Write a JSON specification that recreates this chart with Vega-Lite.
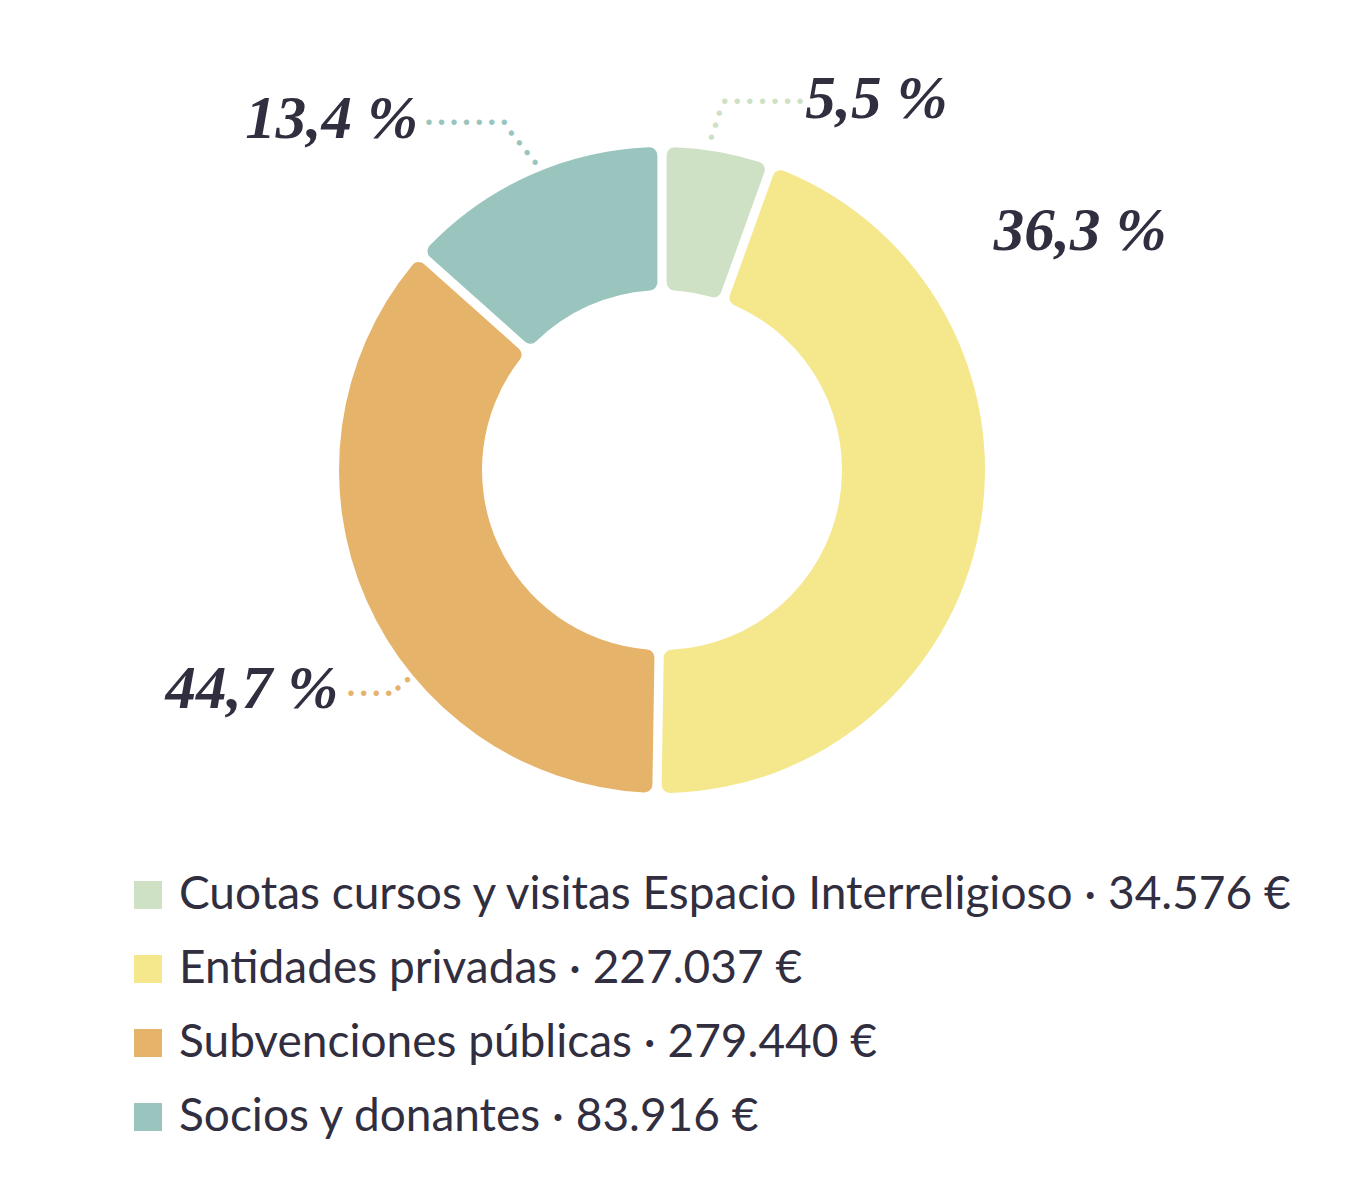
{
  "$schema": "https://vega.github.io/schema/vega-lite/v6.json",
  "width": 1324,
  "height": 940,
  "padding": {"left": 0, "top": 0, "right": 27, "bottom": 239},
  "autosize": {"type": "none"},
  "background": "white",
  "config": {"view": {"stroke": null}},
  "data": {
    "values": [
      {"cat": "cuotas", "leyenda": "Cuotas cursos y visitas Espacio Interreligioso · 34.576 €", "importe": 34576, "sector": 5.5, "pct": "5,5 %", "orden": 1},
      {"cat": "entidades", "leyenda": "Entidades privadas · 227.037 €", "importe": 227037, "sector": 44.7, "pct": "36,3 %", "orden": 2},
      {"cat": "subvenciones", "leyenda": "Subvenciones públicas · 279.440 €", "importe": 279440, "sector": 36.3, "pct": "44,7 %", "orden": 3},
      {"cat": "socios", "leyenda": "Socios y donantes · 83.916 €", "importe": 83916, "sector": 13.4, "pct": "13,4 %", "orden": 4}
    ]
  },
  "encoding": {
    "theta": {"field": "sector", "type": "quantitative", "stack": true},
    "order": {"field": "orden", "type": "quantitative"}
  },
  "layer": [
    {
      "mark": {"type": "arc", "innerRadius": 180, "outerRadius": 323, "padAngle": 0.025, "cornerRadius": 8},
      "encoding": {
        "color": {
          "field": "leyenda",
          "type": "nominal",
          "sort": null,
          "scale": {
            "domain": [
              "Cuotas cursos y visitas Espacio Interreligioso · 34.576 €",
              "Entidades privadas · 227.037 €",
              "Subvenciones públicas · 279.440 €",
              "Socios y donantes · 83.916 €"
            ],
            "range": ["#cfe1c4", "#f5e78c", "#e6b36b", "#9ac5bf"]
          },
          "legend": {
            "title": null,
            "orient": "none",
            "legendX": 125,
            "legendY": 872,
            "symbolType": "square",
            "symbolSize": 784,
            "symbolStrokeWidth": 0,
            "symbolOpacity": 1,
            "labelFont": "Lato",
            "labelFontSize": 46,
            "labelColor": "#312e3f",
            "labelOffset": 8,
            "rowPadding": 28,
            "labelLimit": 3000,
            "padding": 0
          }
        }
      }
    },
    {
      "mark": {"type": "text", "radius": 380, "dx": 149, "dy": 4, "font": "Liberation Serif", "fontWeight": "bold", "fontStyle": "italic", "fontSize": 61, "fill": "#312e3f", "align": "center", "baseline": "middle"},
      "encoding": {"text": {"condition": {"test": "datum.cat === 'cuotas'", "field": "pct", "type": "nominal"}, "value": ""}}
    },
    {
      "mark": {"type": "text", "radius": 420, "dx": 5, "dy": -314, "font": "Liberation Serif", "fontWeight": "bold", "fontStyle": "italic", "fontSize": 61, "fill": "#312e3f", "align": "center", "baseline": "middle"},
      "encoding": {"text": {"condition": {"test": "datum.cat === 'entidades'", "field": "pct", "type": "nominal"}, "value": ""}}
    },
    {
      "mark": {"type": "text", "radius": 450, "dx": 2, "dy": 39, "font": "Liberation Serif", "fontWeight": "bold", "fontStyle": "italic", "fontSize": 61, "fill": "#312e3f", "align": "center", "baseline": "middle"},
      "encoding": {"text": {"condition": {"test": "datum.cat === 'subvenciones'", "field": "pct", "type": "nominal"}, "value": ""}}
    },
    {
      "mark": {"type": "text", "radius": 380, "dx": -175, "dy": -3, "font": "Liberation Serif", "fontWeight": "bold", "fontStyle": "italic", "fontSize": 61, "fill": "#312e3f", "align": "center", "baseline": "middle"},
      "encoding": {"text": {"condition": {"test": "datum.cat === 'socios'", "field": "pct", "type": "nominal"}, "value": ""}}
    },
    {
      "mark": {"type": "text", "radius": 380, "dx": 35, "dy": 6, "font": "Liberation Sans", "fontSize": 20, "fill": "#cfe1c4", "align": "center", "baseline": "middle"},
      "encoding": {"text": {"condition": {"test": "datum.cat === 'cuotas'", "value": "• • • • • • •"}, "value": ""}}
    },
    {
      "mark": {"type": "text", "radius": 380, "angle": -72.3, "dx": -31.8, "dy": -1.8, "font": "Liberation Sans", "fontSize": 20, "fill": "#cfe1c4", "align": "center", "baseline": "middle"},
      "encoding": {"text": {"condition": {"test": "datum.cat === 'cuotas'", "value": "• • •"}, "value": ""}}
    },
    {
      "mark": {"type": "text", "radius": 380, "dx": -40, "dy": 0, "font": "Liberation Sans", "fontSize": 20, "fill": "#9ac5bf", "align": "center", "baseline": "middle"},
      "encoding": {"text": {"condition": {"test": "datum.cat === 'socios'", "value": "• • • • • • •"}, "value": ""}}
    },
    {
      "mark": {"type": "text", "radius": 380, "angle": 51.3, "dx": 29.5, "dy": 2.9, "font": "Liberation Sans", "fontSize": 20, "fill": "#9ac5bf", "align": "center", "baseline": "middle"},
      "encoding": {"text": {"condition": {"test": "datum.cat === 'socios'", "value": "• • • •"}, "value": ""}}
    },
    {
      "mark": {"type": "text", "radius": 450, "dx": 120, "dy": 43, "font": "Liberation Sans", "fontSize": 20, "fill": "#e6b36b", "align": "center", "baseline": "middle"},
      "encoding": {"text": {"condition": {"test": "datum.cat === 'subvenciones'", "value": "• • • •"}, "value": ""}}
    },
    {
      "mark": {"type": "text", "radius": 450, "angle": -41, "dx": 93.6, "dy": 125.8, "font": "Liberation Sans", "fontSize": 20, "fill": "#e6b36b", "align": "center", "baseline": "middle"},
      "encoding": {"text": {"condition": {"test": "datum.cat === 'subvenciones'", "value": "• •"}, "value": ""}}
    }
  ]
}
